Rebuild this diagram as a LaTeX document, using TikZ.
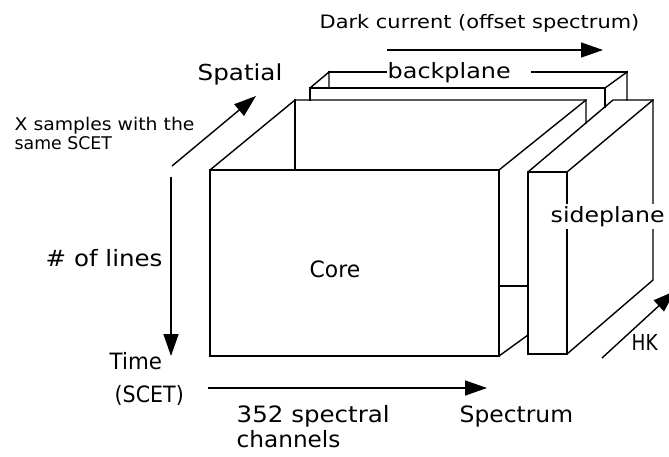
\documentclass[tikz,border=0pt]{standalone}
\usepackage{fontspec}
\setmainfont{DejaVu Sans}
\usetikzlibrary{arrows.meta}
\newcommand{\sxx}[2]{\scalebox{#1}[1]{#2}}
\begin{document}
\begin{tikzpicture}[x=1pt,y=-1pt,line width=1.4pt,line cap=rect,
  lab/.style={inner sep=0pt,anchor=base west,font=\fontsize{22.5}{26}\selectfont},
  midlab/.style={lab,font=\fontsize{21}{24}\selectfont},
  smalllab/.style={lab,font=\fontsize{17.5}{20}\selectfont},
  axisarrow/.style={line width=1.4pt,line cap=butt,-{Triangle[length=22pt,width=15pt]}}]
\clip (0,0) rectangle (669,456);
\fill[white] (0,0) rectangle (669,456);

% ---------- backplane ----------
\draw (310,100)--(310,88)--(605,88)--(605,107);
\draw (310,88)--(329,72)--(329,88);
\draw (605,88)--(627,72)--(627,100);
\draw (329,72)--(386,72);
\draw (532,72)--(627,72);

% ---------- core ----------
\draw (210,170) rectangle (499,356);
\draw (210,170)--(295,100)--(586,100)--(586,123);
\draw (295,100)--(295,170);
\draw (499,170)--(586,100);
\draw (499,286)--(528,286);
\draw (499,356)--(528,335);

% ---------- sideplane ----------
\draw (528,172) rectangle (567,354);
\draw (528,172)--(613,100)--(653,100)--(653,280)--(567,354);
\draw (567,172)--(653,100);

% ---------- axes ----------
\coordinate (dcS) at (387,50);  \coordinate (dcE) at (603,50);
\coordinate (spS) at (172,166); \coordinate (spE) at (256,96);
\coordinate (tmS) at (171,177); \coordinate (tmE) at (171,356);
\coordinate (scS) at (208,388); \coordinate (scE) at (487,388);
\coordinate (hkS) at (602,358); \coordinate (hkE) at (675,291);
\draw[axisarrow] (dcS)--(dcE);
\draw[axisarrow] (spS)--(spE);
\draw[axisarrow] (tmS)--(tmE);
\draw[axisarrow] (scS)--(scE);
\draw[axisarrow] (hkS)--(hkE);

% ---------- labels ----------
\node[lab,font=\fontsize{18.5}{22}\selectfont] (dark) at (319,28) {\sxx{1.131}{Dark current (offset spectrum)}};
\node[midlab] (back) at (387,78) {\sxx{1.137}{backplane}};
\node[lab,font=\fontsize{22}{26}\selectfont] (spatial) at (197,80) {\sxx{1.118}{Spatial}};
\node[smalllab] (xs1) at (14,130) {\sxx{1.075}{X samples with the}};
\node[smalllab] (xs2) at (14,149) {\sxx{0.99}{same SCET}};
\node[lab] (lines) at (45,266) {\sxx{1.09}{\# of lines}};
\node[lab] (core) at (309,277) {\sxx{0.97}{Core}};
\node[midlab,fill=white,inner ysep=2.5pt] (side) at (550,222) {\sxx{1.124}{sideplane}};
\node[lab,font=\fontsize{22}{26}\selectfont] (hk) at (631,350) {\sxx{0.84}{HK}};
\node[lab] (time) at (109,369) {\sxx{0.95}{Time}};
\node[lab] (scet) at (114,402) {\sxx{0.915}{(SCET)}};
\node[lab] (n352) at (236,422) {\sxx{1.09}{352 spectral}};
\node[lab] (chan) at (236,447) {\sxx{1.03}{channels}};
\node[lab] (spec) at (459,422) {\sxx{1.04}{Spectrum}};
\end{tikzpicture}
\end{document}
